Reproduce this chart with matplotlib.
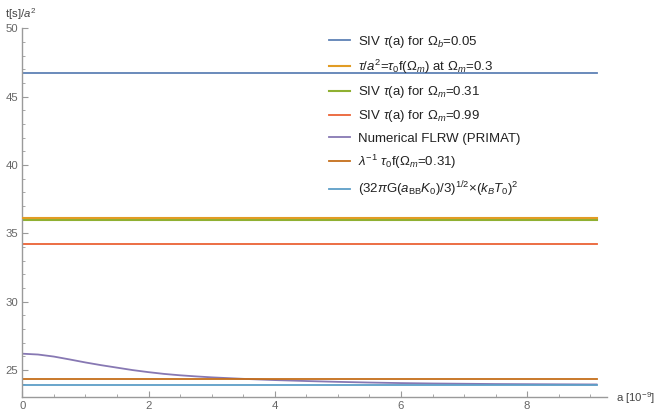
import numpy as np
import matplotlib.pyplot as plt

plt.rcParams['font.family'] = ['Liberation Sans', 'DejaVu Sans']
plt.rcParams['mathtext.fontset'] = 'custom'
plt.rcParams['mathtext.rm'] = 'Liberation Sans'
plt.rcParams['mathtext.it'] = 'Liberation Sans:italic'
plt.rcParams['mathtext.bf'] = 'Liberation Sans:bold'

# range of a (in units of 1e-9) covered by the curves
a_span = [0.0, 9.1]

# constant t/a^2 levels [s]
siv_omega_b = 46.75
tau_f_omega = 36.11
siv_omega_m031 = 36.0
siv_omega_m099 = 34.22
lambda_tau_f = 24.33
bb_estimate = 23.92

# numerical FLRW solution (PRIMAT)
a_num = [0.0, 0.25, 0.5, 0.75, 1.0, 1.25, 1.5, 1.75, 2.0, 2.25, 2.5, 2.75, 3.0,
         3.5, 4.0, 4.5, 5.0, 5.5, 6.0, 6.5, 7.0, 7.5, 8.0, 8.5, 9.1]
t_num = [26.19, 26.13, 25.98, 25.77, 25.55, 25.35, 25.17, 24.99, 24.84, 24.71, 24.61, 24.53, 24.46,
         24.35, 24.26, 24.19, 24.13, 24.08, 24.04, 24.01, 23.99, 23.97, 23.96, 23.95, 23.94]

labels = [
    r"SIV $\tau$(a) for $\Omega_b$=0.05",
    r"$\tau/a^2$=$\tau_0$f($\Omega_m$) at $\Omega_m$=0.3",
    r"SIV $\tau$(a) for $\Omega_m$=0.31",
    r"SIV $\tau$(a) for $\Omega_m$=0.99",
    "Numerical FLRW (PRIMAT)",
    r"$\lambda^{-1}$ $\tau_0$f($\Omega_m$=0.31)",
    r"(32$\pi$G($a_{\mathrm{BB}}K_0$)/3)$^{1/2}$$\times$($k_BT_0$)$^2$",
]
colors = ['#5E81B5', '#E19C24', '#8FB032', '#EB6235', '#8778B3', '#C56E1A', '#5D9EC7']

fig = plt.figure(figsize=(6.57, 4.11), dpi=100)
ax = fig.add_axes([22.3 / 657, 1 - 397.3 / 411, (606.7 - 22.3) / 657, (397.3 - 28.3) / 411])

lines = []
lines.append(ax.plot(a_span, [siv_omega_b] * 2, color=colors[0], lw=1.3)[0])
line_tau = ax.plot(a_span, [tau_f_omega] * 2, color=colors[1], lw=1.5, zorder=3)[0]
lines.append(line_tau)
lines.append(ax.plot(a_span, [siv_omega_m031] * 2, color=colors[2], lw=1.5)[0])
lines.append(ax.plot(a_span, [siv_omega_m099] * 2, color=colors[3], lw=1.3)[0])
lines.append(ax.plot(a_num, t_num, color=colors[4], lw=1.3)[0])
lines.append(ax.plot(a_span, [lambda_tau_f] * 2, color=colors[5], lw=1.3)[0])
lines.append(ax.plot(a_span, [bb_estimate] * 2, color=colors[6], lw=1.3)[0])

ax.set_xlim(0, 9.26)
ax.set_ylim(23, 50)
ax.set_xticks([0, 2, 4, 6, 8])
ax.set_xticks(np.arange(0.5, 9.1, 0.5), minor=True)
ax.set_yticks([25, 30, 35, 40, 45, 50])
ax.set_yticks(np.arange(24, 50, 1), minor=True)

axis_grey = '#9a9a9a'
for side in ['top', 'right']:
    ax.spines[side].set_visible(False)
for side in ['left', 'bottom']:
    ax.spines[side].set_color(axis_grey)
    ax.spines[side].set_linewidth(1.0)
ax.tick_params(which='both', direction='in', color=axis_grey, labelcolor='#666666',
               labelsize=8.2)
ax.tick_params(which='major', length=4, width=0.8, pad=3)
ax.tick_params(which='minor', length=2.2, width=0.6)

leg = ax.legend(lines, labels, loc='upper left', bbox_to_anchor=(0.516, 1.0), frameon=False,
                fontsize=9.5, handlelength=1.6, handletextpad=0.6,
                labelspacing=0.62, borderaxespad=0)
for txt in leg.get_texts():
    txt.set_color('#222222')

fig.text(5 / 657, 1 - 14 / 411, r"t[s]/$a^2$", fontsize=8.2, color='#444444', va='center')
fig.text(616 / 657, 1 - 398 / 411, r"a [10$^{-9}$]", fontsize=8.2, color='#444444', va='center')

fig.savefig('out.png', dpi=100)
